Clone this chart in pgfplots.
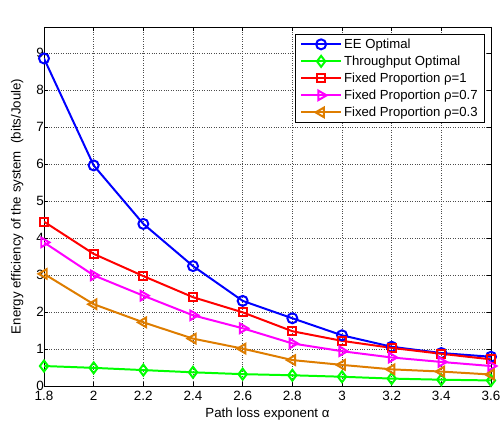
\documentclass[border=0pt]{standalone}
\usepackage{pgfplots}
\pgfplotsset{compat=1.18}
\usepackage{fontspec}
\setmainfont{Liberation Sans}
\definecolor{eeblue}{rgb}{0,0,1}
\definecolor{tgreen}{rgb}{0,1,0}
\definecolor{fred}{rgb}{1,0,0}
\definecolor{fmag}{rgb}{1,0,1}
\definecolor{forange}{rgb}{0.87,0.49,0.0}
\begin{document}
\begin{tikzpicture}
\begin{axis}[
  scale only axis, width=447bp, height=359bp,
  xmin=1.8, xmax=3.6, ymin=0, ymax=9.7,
  xtick={1.8,2,2.2,2.4,2.6,2.8,3,3.2,3.4,3.6},
  ytick={0,1,2,3,4,5,6,7,8,9},
  grid=major,
  major grid style={black!70, dotted, line width=0.5pt},
  tick align=inside, tick pos=both, major tick length=4bp,
  axis line style={line width=0.7pt},
  every tick/.style={black, line width=0.6pt},
  /pgf/number format/assume math mode=true,
  ticklabel style={font=\fontsize{13.5}{15}\selectfont},
  xticklabel style={yshift=-4bp, inner sep=1bp},
  yticklabel style={xshift=1bp, inner sep=1bp},
  xlabel={Path loss exponent α},
  ylabel={Energy efficiency of the system\ \ (bits/Joule)},
  label style={font=\fontsize{13.3}{15}\selectfont},
  xlabel style={at={(axis description cs:0.5,-0.077)}, anchor=center},
  ylabel style={at={(axis description cs:-0.06,0.5)}, anchor=center},
  legend cell align=left,
  legend style={at={(axis description cs:0.9866,0.9805)}, anchor=north east,
    draw=black, line width=0.7pt, font=\fontsize{13.2}{15}\selectfont,
    row sep=2bp, inner xsep=5bp, inner ysep=2.5bp},
  legend image code/.code={
    \draw[mark repeat=2,mark phase=2,#1] plot coordinates {(0bp,0bp)(20bp,0bp)(40bp,0bp)};
  },
  every axis plot/.append style={line width=2pt, mark options={solid, fill=none}},
]
\addplot[color=eeblue, mark=o, mark size=5bp] coordinates {
(1.8,8.85)(2.0,5.96)(2.2,4.38)(2.4,3.24)(2.6,2.30)(2.8,1.83)(3.0,1.37)(3.2,1.06)(3.4,0.89)(3.6,0.79)};
\addlegendentry{EE Optimal}
\addplot[color=tgreen, mark=diamond, mark size=5.5bp] coordinates {
(1.8,0.54)(2.0,0.49)(2.2,0.43)(2.4,0.37)(2.6,0.32)(2.8,0.29)(3.0,0.25)(3.2,0.20)(3.4,0.17)(3.6,0.15)};
\addlegendentry{Throughput Optimal}
\addplot[color=fred, mark=square, mark size=4bp] coordinates {
(1.8,4.44)(2.0,3.57)(2.2,2.97)(2.4,2.40)(2.6,1.99)(2.8,1.48)(3.0,1.22)(3.2,1.03)(3.4,0.87)(3.6,0.72)};
\addlegendentry{Fixed Proportion ρ=1}
\addplot[color=fmag, mark=triangle, mark size=5.5bp, mark options={rotate=-90}] coordinates {
(1.8,3.88)(2.0,2.99)(2.2,2.44)(2.4,1.91)(2.6,1.56)(2.8,1.15)(3.0,0.94)(3.2,0.77)(3.4,0.65)(3.6,0.54)};
\addlegendentry{Fixed Proportion ρ=0.7}
\addplot[color=forange, mark=triangle, mark size=5.5bp, mark options={rotate=90}] coordinates {
(1.8,3.03)(2.0,2.21)(2.2,1.72)(2.4,1.28)(2.6,1.01)(2.8,0.70)(3.0,0.57)(3.2,0.45)(3.4,0.39)(3.6,0.31)};
\addlegendentry{Fixed Proportion ρ=0.3}
\coordinate (o) at (rel axis cs:0,0);
\node[anchor=south west, inner sep=0pt, yshift=5bp, font=\fontsize{13}{15}\selectfont] at (rel axis cs:0,1) {x 10\textsuperscript{4}};
\end{axis}
\pgfresetboundingbox
\path (o) ++(-44bp,-37bp) rectangle ++(503bp,423bp);
\end{tikzpicture}
\end{document}
